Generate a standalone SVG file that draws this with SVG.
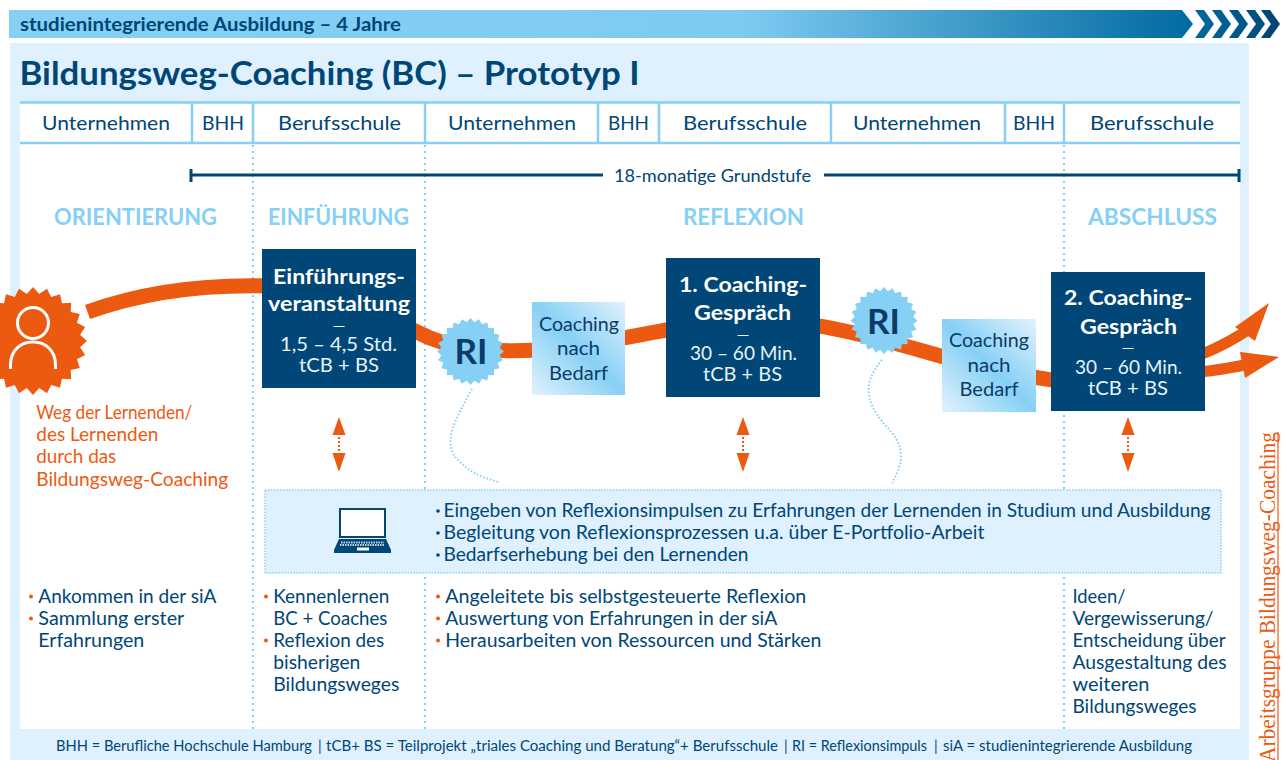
<svg xmlns="http://www.w3.org/2000/svg" width="1285" height="760" viewBox="0 0 1285 760">
<style>
text{font-family:Lato,Roboto,"Noto Sans",sans-serif;fill:#004677;font-size:18.500px}
.b{font-weight:700}
.m{text-anchor:middle}
.h{font-size:19.500px;text-anchor:middle}
.s{font-size:22px;font-weight:700;fill:#86d0f5}
.bt{font-size:21px;font-weight:700;fill:#fff}
.bs{font-size:19.500px;fill:#e6f3fa}
.dash{font-size:14px;fill:#e6f3fa}
.c{font-size:19.500px;fill:#0c3a6b}
.o{fill:#ec5a11}
.line{fill:none;stroke:#86d0f5;stroke-width:2.500}
.dot{fill:none;stroke:#86d0f5;stroke-width:2;stroke-dasharray:2 4}
.fine{fill:none;stroke:#86d0f5;stroke-width:2;stroke-dasharray:1.500 2}
.path{fill:none;stroke:#ec5a11;stroke-width:15}
.ar{fill:#ec5a11}
.ad{fill:none;stroke:#ec5a11;stroke-width:2;stroke-dasharray:2 2}
.box{fill:#004677}
.bul{fill:#ec5a11}
.ft{font-size:14.500px}
.vt{font-family:"Liberation Serif",serif;font-size:23px;fill:#ec5a11}
</style>
<defs>
<linearGradient id="bar" x1="0" x2="1" y1="0" y2="0"><stop offset="0" stop-color="#86d0f5"/><stop offset=".62" stop-color="#7ecbf1"/><stop offset="1" stop-color="#006a9f"/></linearGradient>
<linearGradient id="cg" x1="0" y1="1" x2="1" y2="0"><stop offset="0" stop-color="#e2f2fd"/><stop offset=".5" stop-color="#86d0f5"/><stop offset="1" stop-color="#e2f2fd"/></linearGradient>
<polygon id="star" points="100,0 87.2,11.5 96.6,25.9 81.3,33.7 86.6,50 69.8,53.6 70.7,70.7 53.6,69.8 50,86.6 33.7,81.3 25.9,96.6 11.5,87.2 0,100 -11.5,87.2 -25.9,96.6 -33.7,81.3 -50,86.6 -53.6,69.8 -70.7,70.7 -69.8,53.6 -86.6,50 -81.3,33.7 -96.6,25.9 -87.2,11.5 -100,0 -87.2,-11.5 -96.6,-25.9 -81.3,-33.7 -86.6,-50 -69.8,-53.6 -70.7,-70.7 -53.6,-69.8 -50,-86.6 -33.7,-81.3 -25.9,-96.6 -11.5,-87.2 0,-100 11.5,-87.2 25.9,-96.6 33.7,-81.3 50,-86.6 53.6,-69.8 70.7,-70.7 69.8,-53.6 86.6,-50 81.3,-33.7 96.6,-25.9 87.2,-11.5"/>
<g id="dbl"><path class="ad" d="M0 20V52"/><polygon class="ar" points="0,0 6.500,18 -6.500,18"/><polygon class="ar" points="0,55 6.500,36 -6.500,36"/></g>
<polygon id="chev" points="0,10 9,10 19,24 9,38 0,38 10,24"/>
</defs>

<rect width="1285" height="760" fill="#fff"/>
<g id="topbar">
<polygon points="9,10 1182,10 1193,24 1182,38 9,38" fill="url(#bar)"/>
<use href="#chev" x="1195" fill="#00659b"/>
<use href="#chev" x="1212" fill="#005f94"/>
<use href="#chev" x="1229" fill="#00588b"/>
<use href="#chev" x="1246" fill="#005082"/>
<use href="#chev" x="1261" fill="#004677"/>
<text x="20" y="31" class="b" style="font-size:18px" textLength="381" lengthAdjust="spacingAndGlyphs">studienintegrierende Ausbildung – 4 Jahre</text>
</g>
<rect id="panel" x="10" y="43" width="1239" height="717" fill="#dff1fe"/>
<rect id="sheet" x="20" y="102" width="1220" height="627" fill="#fff"/>
<text id="title" x="19.500" y="84.500" class="b" style="font-size:33px" textLength="620" lengthAdjust="spacingAndGlyphs">Bildungsweg-Coaching (BC) – Prototyp I</text>

<g id="header">
<path class="line" d="M20 102.500H1240M20 143H1240M192 102V143M253 102V143M425 102V143M598 102V143M659 102V143M831 102V143M1005 102V143M1064 102V143"/>
<text x="106" y="130" class="h" textLength="128" lengthAdjust="spacingAndGlyphs">Unternehmen</text>
<text x="223" y="130" class="h" textLength="42" lengthAdjust="spacingAndGlyphs">BHH</text>
<text x="339.500" y="130" class="h" textLength="123" lengthAdjust="spacingAndGlyphs">Berufsschule</text>
<text x="512" y="130" class="h" textLength="128" lengthAdjust="spacingAndGlyphs">Unternehmen</text>
<text x="628.500" y="130" class="h" textLength="41" lengthAdjust="spacingAndGlyphs">BHH</text>
<text x="745" y="130" class="h" textLength="124" lengthAdjust="spacingAndGlyphs">Berufsschule</text>
<text x="917" y="130" class="h" textLength="128" lengthAdjust="spacingAndGlyphs">Unternehmen</text>
<text x="1034" y="130" class="h" textLength="42" lengthAdjust="spacingAndGlyphs">BHH</text>
<text x="1152" y="130" class="h" textLength="124" lengthAdjust="spacingAndGlyphs">Berufsschule</text>
</g>
<path id="columns" class="dot" d="M253 145V729M425 145V729M1064 145V729"/>

<g id="timeline">
<path d="M191 175H603M824 175H1240M191 169V182M1239 169V182" fill="none" stroke="#004677" stroke-width="3"/>
<text x="614" y="181.500" style="font-size:16.500px" textLength="197" lengthAdjust="spacingAndGlyphs">18-monatige Grundstufe</text>
</g>
<g id="phases">
<text x="54" y="224.500" class="s" textLength="163" lengthAdjust="spacingAndGlyphs">ORIENTIERUNG</text>
<text x="268" y="224.500" class="s" textLength="141" lengthAdjust="spacingAndGlyphs">EINFÜHRUNG</text>
<text x="683" y="224.500" class="s" textLength="121" lengthAdjust="spacingAndGlyphs">REFLEXION</text>
<text x="1088" y="224.500" class="s" textLength="129" lengthAdjust="spacingAndGlyphs">ABSCHLUSS</text>
</g>

<g id="connectors">
<path class="path" d="M87.500 312C140 293 200 284 270 286C340 292 390 320 430 338C460 350 490 352 540 350C600 345 650 332 700 324C780 312 850 330 930 353C980 368 1030 378 1090 385"/>
<path d="M1200 355C1220 347 1238 337 1252 327" fill="none" stroke="#ec5a11" stroke-width="11"/>
<polygon class="ar" points="1269,303 1255,341 1235,327"/>
<path d="M1200 372C1220 370 1235 367 1250 364" fill="none" stroke="#ec5a11" stroke-width="11"/>
<polygon class="ar" points="1279,357 1245,378 1240,352"/>
<path class="fine" d="M472 389C455 420 440 445 460 462C472 474 485 478 498 482"/>
<path class="fine" d="M882 360C860 385 868 405 885 425C905 445 905 460 892 483"/>
<use href="#dbl" x="339" y="417"/>
<use href="#dbl" x="743" y="417"/>
<use href="#dbl" x="1128" y="417"/>
</g>

<g id="learner">
<use href="#star" transform="translate(33 341) scale(.54)" fill="#ec5a11"/>
<circle cx="33" cy="323" r="15.500" fill="none" stroke="#fff" stroke-width="3"/>
<path d="M10.500 369V365C10.500 350 21 342 33 342C45 342 55.500 350 55.500 365V369" fill="none" stroke="#fff" stroke-width="3"/>
</g>
<g id="learner-label" transform="translate(-.7 .7)">
<text class="o" x="37" y="418" textLength="156" lengthAdjust="spacingAndGlyphs">Weg der Lernenden/</text>
<text class="o" x="37" y="440" textLength="122" lengthAdjust="spacingAndGlyphs">des Lernenden</text>
<text class="o" x="37" y="462" textLength="80" lengthAdjust="spacingAndGlyphs">durch das</text>
<text class="o" x="37" y="485" textLength="192" lengthAdjust="spacingAndGlyphs">Bildungsweg-Coaching</text>
</g>

<g id="einfuehrung">
<rect class="box" x="262" y="249" width="154" height="139"/>
<text class="bt m" x="339" y="283.500" textLength="132" lengthAdjust="spacingAndGlyphs">Einführungs-</text>
<text class="bt m" x="339" y="310.500" textLength="142" lengthAdjust="spacingAndGlyphs">veranstaltung</text>
<text class="dash m" x="339" y="331" textLength="13" lengthAdjust="spacingAndGlyphs">—</text>
<text class="bs m" x="338.500" y="351" textLength="117" lengthAdjust="spacingAndGlyphs">1,5 – 4,5 Std.</text>
<text class="bs m" x="339" y="372" textLength="80" lengthAdjust="spacingAndGlyphs">tCB + BS</text>
</g>
<g id="ri1">
<use href="#star" transform="translate(470.500 351.500) scale(.335)" fill="#86d0f5"/>
<text class="m b" x="471" y="364" style="font-size:35px;fill:#0c3a6b" textLength="33" lengthAdjust="spacingAndGlyphs">RI</text>
</g>
<g id="bedarf1">
<rect x="532" y="302" width="93" height="93" fill="url(#cg)"/>
<text class="c m" x="579" y="331" textLength="80" lengthAdjust="spacingAndGlyphs">Coaching</text>
<text class="c m" x="578.500" y="355" textLength="43" lengthAdjust="spacingAndGlyphs">nach</text>
<text class="c m" x="578.500" y="380" textLength="59" lengthAdjust="spacingAndGlyphs">Bedarf</text>
</g>
<g id="gespraech1">
<rect class="box" x="666" y="258" width="154" height="139"/>
<text class="bt m" x="743" y="291.500" textLength="128" lengthAdjust="spacingAndGlyphs">1. Coaching-</text>
<text class="bt m" x="742.500" y="319.500" textLength="97" lengthAdjust="spacingAndGlyphs">Gespräch</text>
<text class="dash m" x="743" y="340" textLength="13" lengthAdjust="spacingAndGlyphs">—</text>
<text class="bs m" x="743.500" y="360" textLength="107" lengthAdjust="spacingAndGlyphs">30 – 60 Min.</text>
<text class="bs m" x="742.500" y="381" textLength="79" lengthAdjust="spacingAndGlyphs">tCB + BS</text>
</g>
<g id="ri2">
<use href="#star" transform="translate(884 320.500) scale(.335)" fill="#86d0f5"/>
<text class="m b" x="883.500" y="333.500" style="font-size:35px;fill:#0c3a6b" textLength="33" lengthAdjust="spacingAndGlyphs">RI</text>
</g>
<g id="bedarf2">
<rect x="942" y="319" width="94" height="93" fill="url(#cg)"/>
<text class="c m" x="989" y="347" textLength="80" lengthAdjust="spacingAndGlyphs">Coaching</text>
<text class="c m" x="989" y="372" textLength="43" lengthAdjust="spacingAndGlyphs">nach</text>
<text class="c m" x="989" y="396" textLength="59" lengthAdjust="spacingAndGlyphs">Bedarf</text>
</g>
<g id="gespraech2">
<rect class="box" x="1051" y="272" width="154" height="139"/>
<text class="bt m" x="1128" y="304.500" textLength="128" lengthAdjust="spacingAndGlyphs">2. Coaching-</text>
<text class="bt m" x="1128.500" y="333.500" textLength="97" lengthAdjust="spacingAndGlyphs">Gespräch</text>
<text class="dash m" x="1128" y="353" textLength="13" lengthAdjust="spacingAndGlyphs">—</text>
<text class="bs m" x="1128.500" y="374" textLength="107" lengthAdjust="spacingAndGlyphs">30 – 60 Min.</text>
<text class="bs m" x="1128" y="395" textLength="80" lengthAdjust="spacingAndGlyphs">tCB + BS</text>
</g>

<g id="eportfolio">
<rect x="265" y="490" width="956" height="83" fill="#dff1fe" stroke="#86d0f5" stroke-width="1.500" stroke-dasharray="1.500 1.500"/>
<g id="laptop">
<rect x="340" y="509" width="45" height="28" fill="#fff" stroke="#004677" stroke-width="2"/>
<path d="M339 539H386L391 550V553H334V550Z" fill="#004677"/>
<path d="M341 542.500H384M340 545H385" stroke="#c3d6e2" stroke-width="1.800" stroke-dasharray="1.500 1" fill="none"/>
<rect x="357" y="547.500" width="12" height="3" fill="#fff"/>
</g>
<circle cx="438" cy="511" r="1.800" fill="#004677"/>
<circle cx="438" cy="533" r="1.800" fill="#004677"/>
<circle cx="438" cy="555" r="1.800" fill="#004677"/>
<g transform="translate(-.5 .7)">
<text x="444" y="516" textLength="767" lengthAdjust="spacingAndGlyphs">Eingeben von Reflexionsimpulsen zu Erfahrungen der Lernenden in Studium und Ausbildung</text>
<text x="444" y="538" textLength="541" lengthAdjust="spacingAndGlyphs">Begleitung von Reflexionsprozessen u.a. über E-Portfolio-Arbeit</text>
<text x="444" y="560" textLength="305" lengthAdjust="spacingAndGlyphs">Bedarfserhebung bei den Lernenden</text>
</g>
</g>

<g id="list-orientierung">
<circle class="bul" cx="31" cy="596.500" r="2"/><circle class="bul" cx="31" cy="618.500" r="2"/>
<g transform="translate(-.7 .7)">
<text x="39" y="602" textLength="178" lengthAdjust="spacingAndGlyphs">Ankommen in der siA</text>
<text x="39" y="624" textLength="146" lengthAdjust="spacingAndGlyphs">Sammlung erster</text>
<text x="39" y="646" textLength="106" lengthAdjust="spacingAndGlyphs">Erfahrungen</text>
</g>
</g>
<g id="list-einfuehrung">
<circle class="bul" cx="266" cy="596.500" r="2"/><circle class="bul" cx="266" cy="640.500" r="2"/>
<g transform="translate(-.7 .7)">
<text x="274" y="602" textLength="116" lengthAdjust="spacingAndGlyphs">Kennenlernen</text>
<text x="274" y="624" textLength="114" lengthAdjust="spacingAndGlyphs">BC + Coaches</text>
<text x="274" y="646" textLength="111" lengthAdjust="spacingAndGlyphs">Reflexion des</text>
<text x="274" y="668" textLength="87" lengthAdjust="spacingAndGlyphs">bisherigen</text>
<text x="274" y="690" textLength="126" lengthAdjust="spacingAndGlyphs">Bildungsweges</text>
</g>
</g>
<g id="list-reflexion">
<circle class="bul" cx="438" cy="596.500" r="2"/><circle class="bul" cx="438" cy="618.500" r="2"/><circle class="bul" cx="438" cy="640.500" r="2"/>
<g transform="translate(-.7 .7)">
<text x="446" y="602" textLength="361" lengthAdjust="spacingAndGlyphs">Angeleitete bis selbstgesteuerte Reflexion</text>
<text x="446" y="624" textLength="332" lengthAdjust="spacingAndGlyphs">Auswertung von Erfahrungen in der siA</text>
<text x="446" y="646" textLength="376" lengthAdjust="spacingAndGlyphs">Herausarbeiten von Ressourcen und Stärken</text>
</g>
</g>
<g id="list-abschluss" transform="translate(-.5 .7)">
<text x="1073" y="602" textLength="53" lengthAdjust="spacingAndGlyphs">Ideen/</text>
<text x="1073" y="624" textLength="141" lengthAdjust="spacingAndGlyphs">Vergewisserung/</text>
<text x="1073" y="646" textLength="153" lengthAdjust="spacingAndGlyphs">Entscheidung über</text>
<text x="1073" y="668" textLength="154" lengthAdjust="spacingAndGlyphs">Ausgestaltung des</text>
<text x="1073" y="690" textLength="77" lengthAdjust="spacingAndGlyphs">weiteren</text>
<text x="1073" y="712" textLength="124" lengthAdjust="spacingAndGlyphs">Bildungsweges</text>
</g>

<g id="footer">
<text class="ft" y="751"><tspan x="56" textLength="256" lengthAdjust="spacingAndGlyphs">BHH = Berufliche Hochschule Hamburg</tspan><tspan x="318">|</tspan><tspan x="326" textLength="452" lengthAdjust="spacingAndGlyphs">tCB+ BS = Teilprojekt „triales Coaching und Beratung“+ Berufsschule</tspan><tspan x="784">|</tspan><tspan x="792" textLength="135" lengthAdjust="spacingAndGlyphs">RI = Reflexionsimpuls</tspan><tspan x="934">|</tspan><tspan x="943" textLength="249" lengthAdjust="spacingAndGlyphs">siA = studienintegrierende Ausbildung</tspan></text>
</g>
<g id="credit">
<text class="vt" transform="translate(1275 762) rotate(-90)" textLength="330" lengthAdjust="spacingAndGlyphs">Arbeitsgruppe Bildungsweg-Coaching</text>
<path d="M1278 432V760" stroke="#ec5a11" stroke-width="1.200"/>
</g>
</svg>
